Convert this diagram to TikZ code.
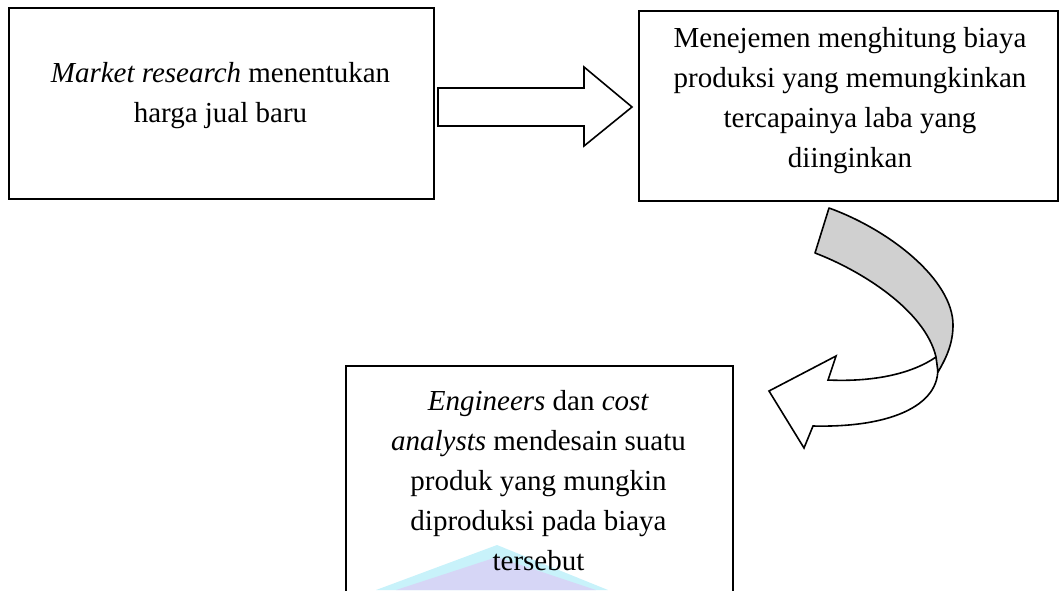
\documentclass[tikz,border=0pt]{standalone}
\usepackage{fontspec}
\setmainfont{Liberation Serif}
\usetikzlibrary{calc}
\definecolor{wmcyan}{RGB}{200,242,250}
\definecolor{wmlav}{RGB}{214,214,246}
\definecolor{ribbon}{RGB}{208,208,208}
\begin{document}
\begin{tikzpicture}[x=1pt,y=-1pt,
  stepbox/.style={draw=black, line width=1.8pt, rectangle, inner sep=0pt, anchor=north west},
  boxtext/.style={anchor=base, inner sep=0pt, font=\fontsize{29}{40}\selectfont},
  blockarrow/.style={draw=black, line width=1.6pt, line join=miter},
]
\useasboundingbox (0,0) rectangle (1059,590);
\clip (0,0) rectangle (1059,590);

% faint watermark at the foot of the page
\fill[wmcyan] (376,590) -- (497,545) -- (608,590) -- cycle;
\fill[wmlav] (396,590) -- (497,557) -- (596,590) -- cycle;

% the three step boxes
\node[stepbox, minimum width=425pt, minimum height=191pt] (b1) at (8,7) {};
\node[stepbox, minimum width=419pt, minimum height=190pt] (b2) at (638,10) {};
\node[stepbox, minimum width=387pt, minimum height=280pt] (b3) at (345,365) {};

\node[boxtext] (t1) at (220.5,82) {\parbox[t]{410pt}{\centering
  \textit{Market research} menentukan\\harga jual baru}};
\node[boxtext] (t2) at (850,47) {\parbox[t]{410pt}{\centering
  Menejemen menghitung biaya\\produksi yang memungkinkan\\tercapainya laba yang\\diinginkan}};
\node[boxtext] (t3) at (538.5,410) {\parbox[t]{380pt}{\centering
  \textit{Engineers} dan \textit{cost}\\\textit{analysts} mendesain suatu\\produk yang mungkin\\diproduksi pada biaya\\tersebut}};

% straight block arrow from the first box to the second
\draw[blockarrow] (438,88) -- (584,88) -- (584,67) -- (632,107) -- (584,146)
  -- (584,126) -- (438,126) -- cycle;

% curved ribbon arrow: front (white) part with the head
\draw[blockarrow, fill=white] (936,357) .. controls (910,375) and (870,382) .. (828,380)
  -- (836,356) -- (769,391) -- (804,448) -- (813,426)
  .. controls (900,428) and (948,400) .. (936,357) -- cycle;
% back (grey) part of the ribbon
\draw[blockarrow, fill=ribbon, line join=round] (829,208) .. controls (890,230) and (953,280) .. (953,325)
  .. controls (953,345) and (945,360) .. (938,372) -- (936,357)
  .. controls (925,310) and (860,270) .. (815,253) -- cycle;
\end{tikzpicture}
\end{document}
